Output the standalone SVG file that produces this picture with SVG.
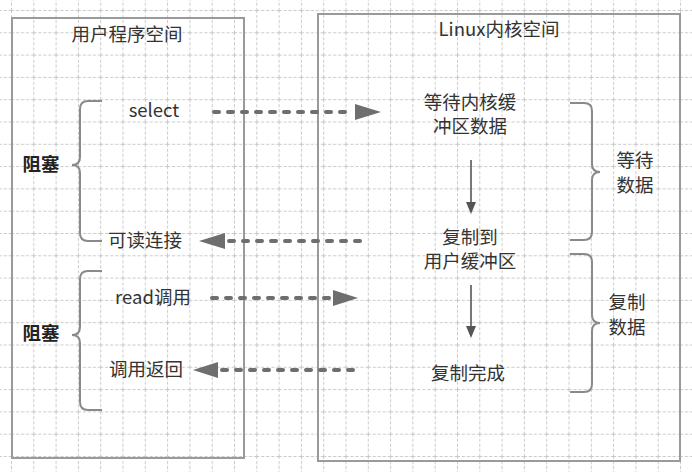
<svg xmlns="http://www.w3.org/2000/svg" width="692" height="472" viewBox="0 0 692 472">
<style>
  .t { font-family: "Noto Sans CJK SC", "Noto Sans", sans-serif; font-size: 18.5px; fill: #333; text-anchor: middle; }
  .b { font-weight: bold; fill: #222; }
  .box { fill: none; stroke: #9a9a9a; stroke-width: 2; }
  .brace { fill: none; stroke: #8a8a8a; stroke-width: 2; }
  .dash { fill: none; stroke: #6e6e6e; stroke-width: 4; stroke-dasharray: 5 9; stroke-linecap: round; }
  .head { fill: #6e6e6e; }
  .down { stroke: #555; stroke-width: 1.6; }
  .dhead { fill: #555; }
</style>
<defs>
  <pattern id="grid" x="11" y="10" width="22.3" height="22.3" patternUnits="userSpaceOnUse">
    <line x1="0.5" y1="0" x2="0.5" y2="22.3" stroke="#c8c8c8" stroke-width="1" stroke-dasharray="3 2"/>
    <line x1="0" y1="0.5" x2="22.3" y2="0.5" stroke="#c8c8c8" stroke-width="1" stroke-dasharray="3 2"/>
  </pattern>
</defs>
<rect width="692" height="472" fill="#ffffff"/>
<rect width="692" height="472" fill="url(#grid)"/>

<g id="user-space">
  <rect class="box" x="12" y="18" width="232" height="440"/>
  <text class="t" x="127" y="41">用户程序空间</text>
</g>
<g id="kernel-space">
  <rect class="box" x="318" y="14" width="362" height="447"/>
  <text class="t" x="499" y="36">Linux内核空间</text>
</g>

<g id="block1">
  <path class="brace" d="M102,101 H88 Q80,101 80,109 V157 Q80,165 72,165 Q80,165 80,173 V233 Q80,241 88,241 H102"/>
  <text class="t b" x="41" y="171">阻塞</text>
</g>
<g id="block2">
  <path class="brace" d="M102,271 H88 Q80,271 80,279 V327 Q80,335 72,335 Q80,335 80,343 V402 Q80,410 88,410 H102"/>
  <text class="t b" x="41" y="340">阻塞</text>
</g>

<g id="select"><text class="t" x="154" y="117">select</text></g>
<g id="readable"><text class="t" x="145" y="247">可读连接</text></g>
<g id="read-call"><text class="t" x="153" y="304">read调用</text></g>
<g id="call-return"><text class="t" x="146" y="376">调用返回</text></g>

<g id="wait-kernel">
  <text class="t" x="470" y="109"><tspan x="470">等待内核缓</tspan><tspan x="470" dy="24">冲区数据</tspan></text>
</g>
<g id="copy-to-user">
  <text class="t" x="470" y="244"><tspan x="470">复制到</tspan><tspan x="470" dy="24">用户缓冲区</tspan></text>
</g>
<g id="copy-done"><text class="t" x="468" y="380">复制完成</text></g>

<g id="wait-data">
  <path class="brace" d="M570,103 H584 Q592,103 592,111 V164 Q592,172 600,172 Q592,172 592,180 V232 Q592,240 584,240 H570"/>
  <text class="t" x="635" y="167"><tspan x="635">等待</tspan><tspan x="635" dy="25">数据</tspan></text>
</g>
<g id="copy-data">
  <path class="brace" d="M570,254 H584 Q592,254 592,262 V315 Q592,323 600,323 Q592,323 592,331 V384 Q592,392 584,392 H570"/>
  <text class="t" x="627" y="309"><tspan x="627">复制</tspan><tspan x="627" dy="25">数据</tspan></text>
</g>

<g id="connectors">
  <line class="dash" x1="214" y1="112" x2="352" y2="112"/>
  <polygon class="head" points="355,104 381,112 355,120"/>

  <line class="dash" x1="360" y1="241" x2="228" y2="241"/>
  <polygon class="head" points="199,241 225,233 225,249"/>

  <line class="dash" x1="212" y1="298" x2="330" y2="298"/>
  <polygon class="head" points="333,290 358,298 333,306"/>

  <line class="dash" x1="353" y1="370" x2="222" y2="370"/>
  <polygon class="head" points="193,370 218,362 218,378"/>

  <line class="down" x1="471" y1="160" x2="471" y2="204"/>
  <polygon class="dhead" points="466,202 476,202 471,214"/>

  <line class="down" x1="471" y1="285" x2="471" y2="328"/>
  <polygon class="dhead" points="466,326 476,326 471,338"/>
</g>
</svg>
